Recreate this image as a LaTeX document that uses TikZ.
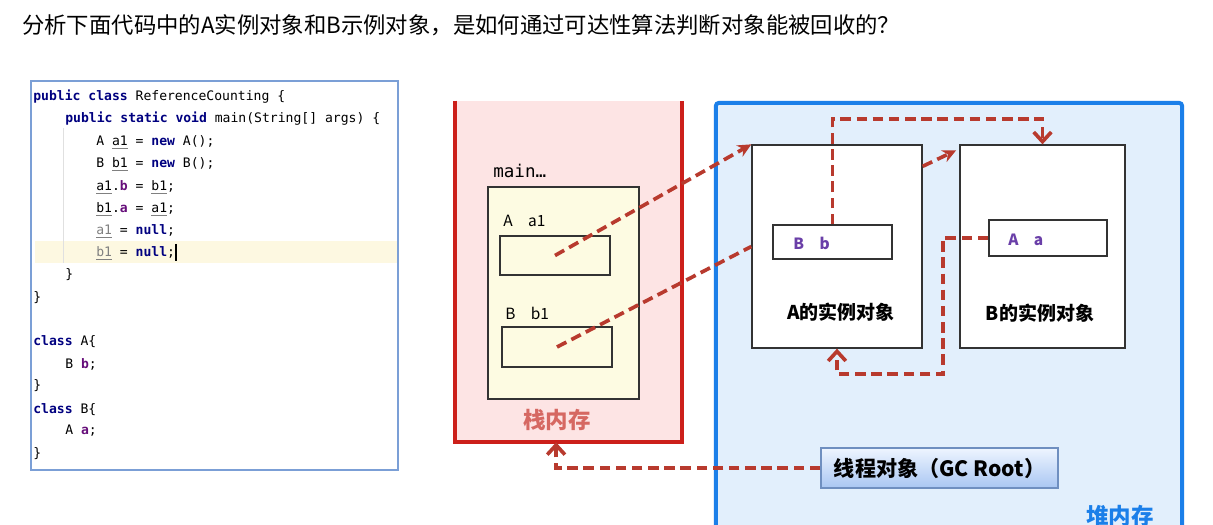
\documentclass[tikz,border=0pt]{standalone}
\usepackage{fontspec}
\setmainfont{Noto Sans CJK SC}
\setmonofont{DejaVu Sans Mono}
\usetikzlibrary{arrows.meta, positioning, shadows}
\definecolor{stackRed}{HTML}{CC1F1A}
\definecolor{stackFill}{HTML}{FDE4E4}
\definecolor{stackText}{HTML}{D66862}
\definecolor{heapBlue}{HTML}{1B7FE9}
\definecolor{heapFill}{HTML}{E2EFFC}
\definecolor{frameFill}{HTML}{FDFBE2}
\definecolor{refLine}{HTML}{B83A2E}
\definecolor{codeKw}{HTML}{000080}
\definecolor{codeField}{HTML}{660E7A}
\definecolor{codeLine}{HTML}{FDF8E1}
\definecolor{codeBorder}{HTML}{7B9FD6}
\definecolor{fieldText}{HTML}{6A3FA8}
\definecolor{rootTop}{HTML}{EEF5FF}
\definecolor{rootBottom}{HTML}{A9C6F2}
\definecolor{rootBorder}{HTML}{6F8FC0}

\newcommand{\kw}[1]{\textcolor{codeKw}{\bfseries #1}}
\newcommand{\fd}[1]{\textcolor{codeField}{\bfseries #1}}
\newcommand{\vu}[1]{\textcolor{gray}{\underline{\textcolor{black}{#1}}}}
\newcommand{\vg}[1]{\textcolor{gray}{\underline{#1}}}

\begin{document}
\begin{tikzpicture}[x=0.025cm, y=-0.025cm,
  font=\fontsize{10}{12}\selectfont,
  code/.style={anchor=base west, inner sep=0pt, font=\ttfamily\fontsize{9.3}{11}\selectfont},
  lbl/.style={anchor=west, inner sep=0pt, font=\fontsize{11}{13}\selectfont},
  obj/.style={draw=black!80, fill=white, line width=0.9pt, inner sep=0pt},
  slot/.style={draw=black!80, line width=0.9pt, inner sep=0pt},
  title/.style={font=\bfseries\fontsize{13.5}{16}\selectfont},
  mem/.style={font=\bfseries\fontsize{16}{18}\selectfont},
  root/.style={draw=rootBorder, line width=0.9pt, top color=rootTop, bottom color=rootBottom,
               drop shadow={opacity=0.25, shadow xshift=1pt, shadow yshift=-1pt},
               minimum width=5.925cm, minimum height=1cm, font=\bfseries\fontsize{15}{17}\selectfont},
  ref/.style={draw=refLine, line width=2.6pt, dash pattern=on 7.5pt off 4pt},
  a/.style={ref, -{Stealth[length=3.4mm, width=3.2mm]}},
  b/.style={ref, -{Straight Barb[length=2.4mm, width=4.4mm]}}
]
\useasboundingbox (0,0) rectangle (1213,525);
\clip (0,0) rectangle (1213,525);
\fill[white] (0,0) rectangle (1213,525);

\node[anchor=west, inner sep=0pt, font=\fontsize{15.9}{18}\selectfont] (question) at (22,25)
  {分析下面代码中的A实例对象和B示例对象，是如何通过可达性算法判断对象能被回收的？};

% code panel
\draw[codeBorder, line width=1pt, fill=white] (31,81) rectangle (398,470);
\fill[codeLine] (35,241) rectangle (397,263);
\draw[black!12] (63,128) -- (63,263);
\node[code] (l1) at (33,101) {\kw{public class} ReferenceCounting \{};
\node[code] (l2) at (65,123) {\kw{public static void} main(String[] args) \{};
\node[code] (l3) at (96,146) {A \vu{a1} = \kw{new} A();};
\node[code] (l4) at (96,168) {B \vu{b1} = \kw{new} B();};
\node[code] (l5) at (96,191) {\vu{a1}.\fd{b} = \vu{b1};};
\node[code] (l6) at (96,213) {\vu{b1}.\fd{a} = \vu{a1};};
\node[code] (l7) at (96,235) {\vg{a1} = \kw{null};};
\node[code] (l8) at (96,257) {\vg{b1} = \kw{null};};
\draw[black, line width=0.8pt] (176,244) -- (176,261);
\node[code] (l9) at (65,279) {\}};
\node[code] (l10) at (33,302) {\}};
\node[code] (l11) at (33,346) {\kw{class} A\{};
\node[code] (l12) at (65,368) {B \fd{b};};
\node[code] (l13) at (33,390) {\}};
\node[code] (l14) at (33,413) {\kw{class} B\{};
\node[code] (l15) at (65,435) {A \fd{a};};
\node[code] (l16) at (33,457) {\}};

% stack
\node[fill=stackFill, minimum width=5.675cm, minimum height=8.525cm, inner sep=0pt] (stack) at (568.5,271.5) {};
\draw[stackRed, line width=2.6pt] (stack.north west) -- (stack.south west) -- (stack.south east) -- (stack.north east);
\node[anchor=west, inner sep=0pt, font=\ttfamily\fontsize{12.5}{14}\selectfont] (mainlbl) at (493,171) {main…};
\node[slot, fill=frameFill, minimum width=3.775cm, minimum height=5.3cm] (frame) at (563.5,293) {};
\node[lbl] (a1lbl) at (503,221) {A\quad a1};
\node[slot, minimum width=2.75cm, minimum height=0.975cm] (a1box) at (555,255.5) {};
\node[lbl] (b1lbl) at (505,313) {B\quad b1};
\node[slot, minimum width=2.75cm, minimum height=1cm] (b1box) at (557,347) {};
\node[mem, text=stackText] (stacklbl) at (557,420) {栈内存};

% heap
\node[fill=heapFill, draw=heapBlue, line width=2.8pt, rounded corners=2pt,
      minimum width=11.65cm, minimum height=10.925cm] (heap) at (949,321.5) {};
\node[obj, minimum width=4.25cm, minimum height=5.075cm] (objA) at (837,246.5) {};
\node[obj, minimum width=4.125cm, minimum height=5.075cm] (objB) at (1042.5,246.5) {};
\node[slot, fill=white, minimum width=2.975cm, minimum height=0.85cm] (fieldb) at (832.5,242) {};
\node[lbl, text=fieldText, font=\bfseries\fontsize{11}{13}\selectfont] (fieldbtxt) at (793,243) {B\quad b};
\node[slot, fill=white, minimum width=2.95cm, minimum height=0.9cm] (fielda) at (1048,238) {};
\node[lbl, text=fieldText, font=\bfseries\fontsize{11}{13}\selectfont] (fieldatxt) at (1008,240) {A\quad a};
\node[title] (objAlbl) at (841,312) {A的实例对象};
\node[title] (objBlbl) at (1040,313) {B的实例对象};
\node[root] (gcroot) at (939.5,468) {线程对象（GC Root）};
\node[mem, text=heapBlue] (heaplbl) at (1120,516) {堆内存};

% references
\draw[a] (a1box.center) -- (objA.north west);
\draw[ref] (b1box.center) -- (objA.west);
\draw[a] ([yshift=-0.55cm]objA.north east) -- ([xshift=-0.08cm, yshift=-0.15cm]objB.north west);
\coordinate (topbend) at (0,119);
\draw[b] (fieldb.north) -- (fieldb.north |- topbend) -| (objB.north);
\coordinate (lowbend) at (943,374);
\draw[b] (fielda.west) -| (lowbend) -| (objA.south);
\draw[b] (gcroot.west) -| ([xshift=-0.31cm]stack.south);
\end{tikzpicture}
\end{document}
